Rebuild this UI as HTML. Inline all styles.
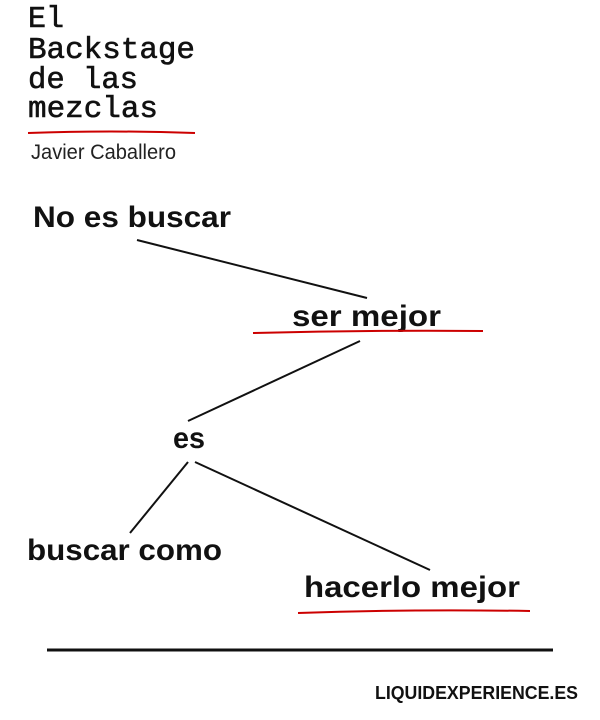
<!DOCTYPE html>
<html><head><meta charset="utf-8"><style>
html,body{margin:0;padding:0;background:#fff;width:600px;height:720px;overflow:hidden}
svg{display:block}
.b{font-family:"Liberation Sans",sans-serif;font-weight:bold;fill:#111}
</style></head><body>
<svg width="600" height="720" viewBox="0 0 600 720">
<g font-family="Liberation Mono, monospace" font-size="31" fill="#111" stroke="#111" stroke-width="0.6">
<text x="28" y="27" textLength="36" lengthAdjust="spacingAndGlyphs">El</text>
<text x="28" y="58" textLength="167" lengthAdjust="spacingAndGlyphs">Backstage</text>
<text x="28" y="88" textLength="110" lengthAdjust="spacingAndGlyphs">de las</text>
<text x="28" y="117" textLength="130" lengthAdjust="spacingAndGlyphs">mezclas</text>
</g>
<path d="M28 133 Q110 130 195 133" stroke="#c00" stroke-width="2" fill="none"/>
<text x="31" y="159" font-family="Liberation Sans, sans-serif" font-size="21" fill="#222" textLength="145" lengthAdjust="spacingAndGlyphs">Javier Caballero</text>
<g class="b" font-size="30">
<text x="33" y="227" textLength="198" lengthAdjust="spacingAndGlyphs">No es buscar</text>
<text x="292" y="326" textLength="149" lengthAdjust="spacingAndGlyphs">ser mejor</text>
<text x="173" y="448" textLength="32" lengthAdjust="spacingAndGlyphs">es</text>
<text x="27" y="560" textLength="195" lengthAdjust="spacingAndGlyphs">buscar como</text>
<text x="304" y="597" textLength="216" lengthAdjust="spacingAndGlyphs">hacerlo mejor</text>
</g>
<line x1="137" y1="240" x2="367" y2="298" stroke="#111" stroke-width="2"/>
<path d="M253 333 Q370 330 483 331" stroke="#c00" stroke-width="2" fill="none"/>
<line x1="360" y1="341" x2="188" y2="421" stroke="#111" stroke-width="2"/>
<line x1="188" y1="462" x2="130" y2="533" stroke="#111" stroke-width="2"/>
<line x1="195" y1="462" x2="430" y2="570" stroke="#111" stroke-width="2"/>
<path d="M298 613 Q410 609 530 611" stroke="#c00" stroke-width="2" fill="none"/>
<line x1="47" y1="650" x2="553" y2="650" stroke="#111" stroke-width="3"/>
<text class="b" x="375" y="699" font-size="18" textLength="203" lengthAdjust="spacingAndGlyphs">LIQUIDEXPERIENCE.ES</text>
</svg>
</body></html>
